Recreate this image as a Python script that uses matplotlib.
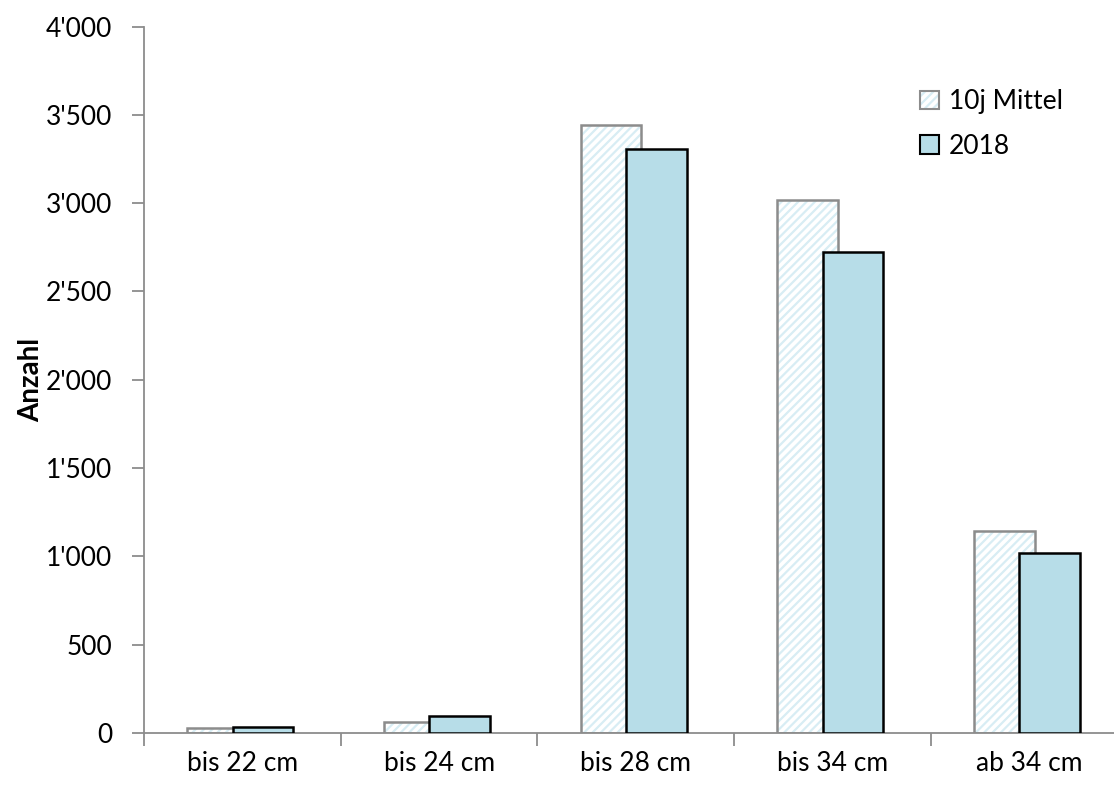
import numpy as np
import matplotlib
matplotlib.use("Agg")
import matplotlib.pyplot as plt
from matplotlib.patches import Patch
from matplotlib.legend_handler import HandlerTuple
from matplotlib.ticker import FuncFormatter, FixedLocator

# Fangzahlen nach Groessenklasse
klassen = ["bis 22 cm", "bis 24 cm", "bis 28 cm", "bis 34 cm", "ab 34 cm"]
mittel_10j = [28, 62, 3445, 3020, 1145]
werte_2018 = [34, 94, 3305, 2725, 1020]
serien = ["10j Mittel", "2018"]

plt.rcParams['font.family'] = ['Lato', 'DejaVu Sans']
plt.rcParams['hatch.linewidth'] = 1.6

fig = plt.figure(figsize=(11.14, 7.85), dpi=100)
ax = fig.add_axes([0.1293, 0.0662, 0.8829, 0.900])

x = np.arange(len(klassen)) + 0.5
breite = 0.308
hatch_farbe = "#d8edf4"
rand_grau = "#8c8c8c"

# 10j Mittel: weisse Flaeche mit hellblauer Schraffur, grauer Rand
ax.bar(x - 0.127, mittel_10j, breite, color="white", edgecolor=hatch_farbe,
       hatch="////", linewidth=0, zorder=2)
ax.bar(x - 0.127, mittel_10j, breite, facecolor="none", edgecolor=rand_grau,
       linewidth=1.8, zorder=3)
# 2018
ax.bar(x + 0.104, werte_2018, breite, color="#b7dde8", edgecolor="black",
       linewidth=1.8, zorder=4)

ax.set_xlim(0, len(klassen))
ax.set_ylim(0, 4000)
ax.set_yticks(np.arange(0, 4001, 500))
ax.yaxis.set_major_formatter(FuncFormatter(lambda v, p: f"{int(v):,}".replace(",", "'")))

ax.set_xticks(x)
ax.set_xticklabels(klassen)
ax.xaxis.set_minor_locator(FixedLocator(np.arange(0, len(klassen) + 1)))
ax.tick_params(axis="x", which="major", length=0, pad=13, labelsize=19)
ax.tick_params(axis="x", which="minor", length=9, width=1.3, color=rand_grau)
ax.tick_params(axis="y", length=9, width=1.3, color=rand_grau, pad=14, labelsize=19)

for s in ["top", "right"]:
    ax.spines[s].set_visible(False)
for s in ["left", "bottom"]:
    ax.spines[s].set_color(rand_grau)
    ax.spines[s].set_linewidth(1.3)

ax.set_ylabel("Anzahl", fontsize=20, fontweight="bold")
ax.yaxis.set_label_coords(-0.102, 0.5)

h_mittel = (Patch(facecolor="white", edgecolor=hatch_farbe, hatch="////", linewidth=0),
            Patch(facecolor="none", edgecolor=rand_grau, linewidth=1.5))
h_2018 = Patch(facecolor="#b7dde8", edgecolor="black", linewidth=1.5)
ax.legend([h_mittel, h_2018], serien, handler_map={tuple: HandlerTuple(ndivide=1, pad=0)},
          loc="upper left", bbox_to_anchor=(0.765, 0.945), frameon=False, fontsize=19,
          handlelength=0.7, handleheight=0.7, handletextpad=0.4, labelspacing=0.75)

fig.savefig("out.png", dpi=100)
